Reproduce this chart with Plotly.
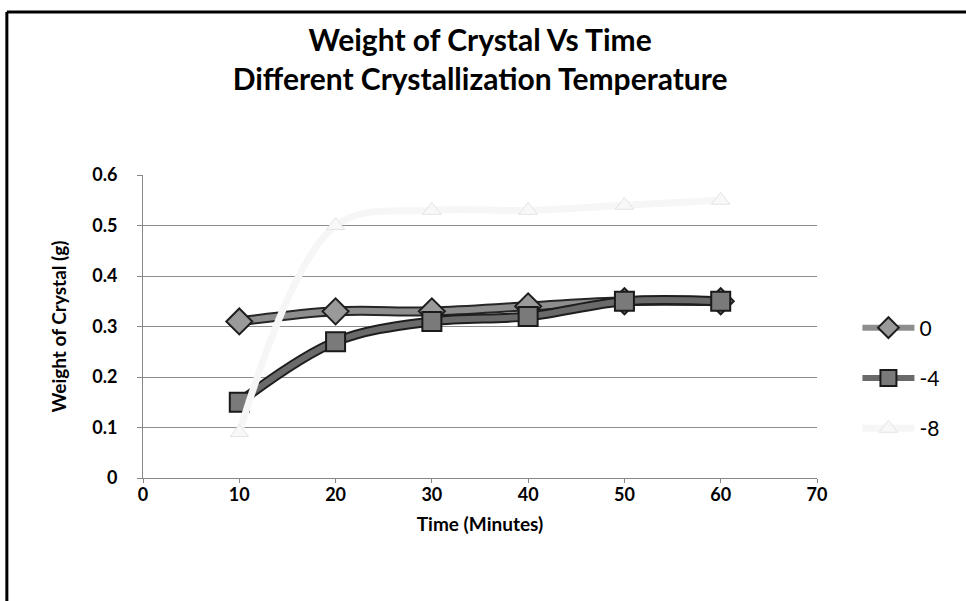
import plotly.graph_objects as go

# Crystallization time (minutes) and crystal weight (g) per temperature
time_min = [10, 20, 30, 40, 50, 60]
weight_0 = [0.31, 0.33, 0.33, 0.34, 0.35, 0.35]
weight_m4 = [0.15, 0.27, 0.31, 0.32, 0.35, 0.35]
weight_m8 = [0.09, 0.50, 0.53, 0.53, 0.54, 0.55]
series_names = ["0", "-4", "-8"]

FONT = "Lato"
SPLINE = dict(shape="spline", smoothing=1)

fig = go.Figure()

# 0 °C series: dark-edged grey band with diamond markers
fig.add_trace(go.Scatter(
    x=time_min, y=weight_0, mode="lines", showlegend=False, hoverinfo="skip",
    line=dict(color="#262626", width=10, **SPLINE),
))
fig.add_trace(go.Scatter(
    x=time_min, y=weight_0, name=series_names[0], mode="lines+markers",
    line=dict(color="#8e8e8e", width=6, **SPLINE),
    marker=dict(symbol="diamond", size=20, color="#9a9a9a",
                line=dict(color="#1e1e1e", width=2)),
    legendgroup="a",
))
# -4 °C series: darker band with square markers
fig.add_trace(go.Scatter(
    x=time_min, y=weight_m4, mode="lines", showlegend=False, hoverinfo="skip",
    line=dict(color="#1e1e1e", width=10, **SPLINE),
))
fig.add_trace(go.Scatter(
    x=time_min, y=weight_m4, name=series_names[1], mode="lines+markers",
    line=dict(color="#6a6a6a", width=6, **SPLINE),
    marker=dict(symbol="square", size=19, color="#7a7a7a",
                line=dict(color="#1a1a1a", width=2)),
    legendgroup="b",
))
# -8 °C series: very pale line with triangle markers
fig.add_trace(go.Scatter(
    x=time_min, y=weight_m8, name=series_names[2], mode="lines+markers",
    line=dict(color="#f6f6f6", width=7, **SPLINE),
    marker=dict(symbol="triangle-up", size=16, color="#f8f8f8",
                line=dict(color="#e4e4e4", width=1)),
    legendgroup="c",
))

fig.update_layout(
    width=966, height=601,
    margin=dict(l=143, r=149, t=175, b=123),
    paper_bgcolor="white", plot_bgcolor="white",
    font=dict(family=FONT, color="black"),
    title=dict(
        text="Weight of Crystal Vs Time<br>Different Crystallization Temperature",
        x=0.497, xanchor="center", y=0.915, yanchor="top",
        font=dict(family=FONT, size=30, weight="bold", color="black"),
    ),
    showlegend=True,
    legend=dict(
        x=1.06, xanchor="left", y=0.33, yanchor="middle",
        font=dict(family=FONT, size=21, color="black"),
        tracegroupgap=20, itemwidth=52, bgcolor="rgba(0,0,0,0)",
    ),
    shapes=[
        # chart frame: top and left edges
        dict(type="line", xref="paper", yref="paper", x0=-0.202, x1=1.25,
             y0=1.538, y1=1.538, line=dict(color="black", width=3)),
        dict(type="line", xref="paper", yref="paper", x0=-0.202, x1=-0.202,
             y0=1.538, y1=-0.41, line=dict(color="black", width=3)),
    ],
)

fig.update_xaxes(
    range=[0, 70], dtick=10, tick0=0,
    showgrid=False, showline=True, linecolor="#888888", linewidth=1,
    ticks="outside", ticklen=4, tickcolor="#888888",
    tickfont=dict(family=FONT, size=18, weight="bold"),
    ticklabelstandoff=-4,
    title=dict(text="Time (Minutes)", standoff=14,
               font=dict(family=FONT, size=19, weight="bold")),
    zeroline=False,
)
fig.update_yaxes(
    range=[0, 0.6], dtick=0.1, tick0=0,
    showgrid=True, gridcolor="#8c8c8c", gridwidth=1,
    showline=True, linecolor="#888888", linewidth=1,
    ticks="outside", ticklen=5, tickcolor="#888888",
    tickfont=dict(family=FONT, size=18, weight="bold"),
    ticklabelstandoff=16,
    title=dict(text="Weight of Crystal (g)", standoff=20,
               font=dict(family=FONT, size=19, weight="bold")),
    zeroline=False,
)

fig.write_html("out.html")
